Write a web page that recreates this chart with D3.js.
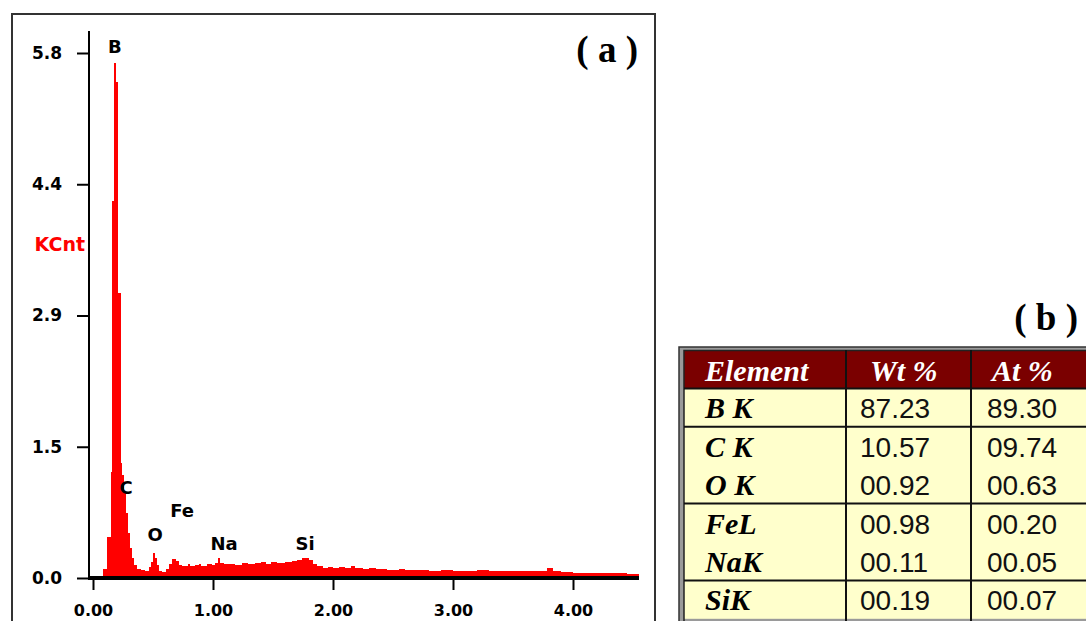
<!DOCTYPE html>
<html>
<head>
<meta charset="utf-8">
<script src="https://cdn.jsdelivr.net/npm/d3@7/dist/d3.min.js"></script>
<style>
html,body{margin:0;padding:0;background:#fff;}
svg{display:block;}
</style>
</head>
<body>
<svg id="chart" width="1086" height="621"></svg>
<script>
// ---------- DATA ----------
// EDS spectrum: left edge of each channel step (keV) and its count (KCnt)
const spectrumKeV = [
  0.080,0.118,0.146,0.160,0.178,0.190,0.210,0.231,0.242,0.258,
  0.275,0.292,0.308,0.325,0.342,0.367,0.400,0.433,0.467,0.483,
  0.500,0.517,0.533,0.550,0.575,0.608,0.633,0.658,0.692,0.717,
  0.742,0.790,0.810,0.850,0.880,0.900,0.950,0.990,1.020,1.045,
  1.060,1.090,1.130,1.180,1.240,1.290,1.350,1.400,1.440,1.480,
  1.530,1.600,1.660,1.700,1.740,1.800,1.830,1.870,1.920,1.960,
  2.000,2.050,2.100,2.150,2.180,2.250,2.300,2.360,2.450,2.550,
  2.600,2.700,2.800,2.900,3.000,3.100,3.200,3.300,3.400,3.500,
  3.600,3.700,3.780,3.830,3.900,4.000,4.100,4.200,4.300,4.400,
  4.450
];
const spectrumKCnt = [
  0.10,0.45,1.17,4.16,5.69,5.48,3.15,1.27,1.14,0.95,
  0.72,0.50,0.33,0.22,0.14,0.10,0.09,0.08,0.12,0.18,
  0.28,0.22,0.14,0.08,0.07,0.10,0.15,0.21,0.19,0.14,
  0.13,0.15,0.13,0.14,0.16,0.13,0.15,0.14,0.17,0.22,
  0.17,0.15,0.16,0.14,0.17,0.16,0.17,0.18,0.16,0.18,
  0.17,0.18,0.19,0.20,0.22,0.20,0.16,0.13,0.11,0.12,
  0.11,0.12,0.11,0.13,0.11,0.10,0.11,0.10,0.09,0.095,
  0.085,0.09,0.08,0.085,0.08,0.08,0.085,0.08,0.075,0.08,
  0.075,0.08,0.105,0.075,0.07,0.06,0.055,0.05,0.05,0.06,
  0.045
];
const spectrumEndKeV = 4.55;

// axes
const xTicks = [0, 1, 2, 3, 4];
const yTicks = [0, 1.45, 2.9, 4.35, 5.8];
const yTickLabels = ["0.0", "1.5", "2.9", "4.4", "5.8"];
const yMax = 5.8;

// peak labels: element, energy (keV), label level (KCnt)
const peakNames = ["B", "C", "O", "Fe", "Na", "Si"];
const peakKeV   = [0.183, 0.275, 0.517, 0.742, 1.092, 1.767];
const peakLevel = [5.87, 1.00, 0.475, 0.75, 0.376, 0.376];

// table (b)
const tableHeader = ["Element", "Wt %", "At %"];
const tableElements = ["B K", "C K", "O K", "FeL", "NaK", "SiK"];
const tableWt = ["87.23", "10.57", "00.92", "00.98", "00.11", "00.19"];
const tableAt = ["89.30", "09.74", "00.63", "00.20", "00.05", "00.07"];
const tableRuleAfter = [true, false, true, false, true, false];

// ---------- DRAW ----------
const svg = d3.select("#chart");

// panel (a) frame
const frame = svg.append("g").attr("stroke", "#333").attr("stroke-width", 2).attr("fill", "none");
frame.append("path").attr("d", "M12,622 L12,14 L655,14 L655,622");

const x = d3.scaleLinear().domain([0, spectrumEndKeV]).range([93, 639]);
const y = d3.scaleLinear().domain([0, yMax]).range([578, 53]);

const pts = spectrumKeV.map((e, i) => [e, spectrumKCnt[i]]);
pts.push([spectrumEndKeV, spectrumKCnt[spectrumKCnt.length - 1]]);

const area = d3.area()
  .x(d => x(d[0]))
  .y0(y(0))
  .y1(d => y(d[1]))
  .curve(d3.curveStepAfter);

svg.append("path")
  .datum(pts)
  .attr("d", area)
  .attr("fill", "#ff0000")
  .attr("shape-rendering", "crispEdges");

// y axis
const yAxis = d3.axisLeft(y)
  .tickValues(yTicks)
  .tickFormat((d, i) => yTickLabels[i])
  .tickSize(12)
  .tickPadding(15);
const gy = svg.append("g").attr("transform", "translate(89,0)").call(yAxis);
gy.select(".domain").remove();
gy.selectAll(".tick line").attr("stroke", "#000").attr("stroke-width", 2);
gy.selectAll(".tick text")
  .attr("font-family", "DejaVu Sans")
  .attr("font-weight", "bold")
  .attr("font-size", 17)
  .attr("fill", "#000");
svg.append("line").attr("x1", 89).attr("x2", 89).attr("y1", 31).attr("y2", 579)
  .attr("stroke", "#000").attr("stroke-width", 2);

// x axis
const xAxis = d3.axisBottom(x)
  .tickValues(xTicks)
  .tickFormat(d3.format(".2f"))
  .tickSize(10)
  .tickPadding(15);
const gx = svg.append("g").attr("transform", "translate(0,580)").call(xAxis);
gx.select(".domain").remove();
gx.selectAll(".tick line").attr("stroke", "#000").attr("stroke-width", 2);
gx.selectAll(".tick text")
  .attr("font-family", "DejaVu Sans")
  .attr("font-weight", "bold")
  .attr("font-size", 16)
  .attr("fill", "#000");
svg.append("line").attr("x1", 88).attr("x2", 639).attr("y1", y(0)).attr("y2", y(0))
  .attr("stroke", "#000").attr("stroke-width", 4);

// y title
svg.append("text").attr("x", 85).attr("y", 244).attr("dy", "0.35em")
  .attr("text-anchor", "end")
  .attr("font-family", "DejaVu Sans").attr("font-weight", "bold").attr("font-size", 19)
  .attr("fill", "#ff0000").text("KCnt");

// peak labels
svg.append("g").selectAll("text").data(peakNames).join("text")
  .attr("x", (d, i) => x(peakKeV[i]))
  .attr("y", (d, i) => y(peakLevel[i]))
  .attr("dy", "0.36em")
  .attr("text-anchor", "middle")
  .attr("font-family", "DejaVu Sans").attr("font-weight", "bold").attr("font-size", 18)
  .attr("fill", "#000")
  .text(d => d);

// panel label (a)
svg.append("text").attr("x", 638).attr("y", 62).attr("text-anchor", "end")
  .attr("font-family", "Liberation Serif").attr("font-weight", "bold").attr("font-size", 37)
  .attr("fill", "#000").text("( a )");

// ---------- TABLE (b) ----------
svg.append("text").attr("x", 1078).attr("y", 330).attr("text-anchor", "end")
  .attr("font-family", "Liberation Serif").attr("font-weight", "bold").attr("font-size", 37)
  .attr("fill", "#000").text("( b )");

const tLeft = 681, tRight = 1100, tTop = 350, rowH = 38.4;
const colX = [tLeft, 846, 971, tRight];
const nRows = tableElements.length;
const tBottom = tTop + rowH * (nRows + 1);

const tg = svg.append("g");
// outer double border
tg.append("rect").attr("x", tLeft - 2).attr("y", tTop - 3).attr("width", tRight - tLeft + 10)
  .attr("height", tBottom - tTop + 10).attr("fill", "#9a9a9a");
tg.append("rect").attr("x", tLeft - 2).attr("y", tTop - 3).attr("width", tRight - tLeft + 10)
  .attr("height", tBottom - tTop + 10).attr("fill", "none").attr("stroke", "#333").attr("stroke-width", 1.5);
// body background
tg.append("rect").attr("x", tLeft + 3).attr("y", tTop + rowH).attr("width", tRight - tLeft)
  .attr("height", rowH * nRows).attr("fill", "#ffffcc");
// header background
tg.append("rect").attr("x", tLeft + 3).attr("y", tTop + 1).attr("width", tRight - tLeft)
  .attr("height", rowH - 1).attr("fill", "#7a0000");
// inner border line
tg.append("path").attr("d", `M${tLeft + 3},${tBottom + 6} L${tLeft + 3},${tTop + 0.5} L${tRight + 10},${tTop + 0.5}`)
  .attr("fill", "none").attr("stroke", "#222").attr("stroke-width", 1.5);

// vertical separators
tg.selectAll("line.v").data([colX[1], colX[2]]).join("line").attr("class", "v")
  .attr("x1", d => d).attr("x2", d => d).attr("y1", tTop).attr("y2", tBottom + 6)
  .attr("stroke", "#111").attr("stroke-width", 2);
// horizontal rules
const ruleYs = [tTop + rowH];
tableRuleAfter.forEach((r, i) => { if (r) ruleYs.push(tTop + rowH * (i + 2)); });
tg.selectAll("line.h").data(ruleYs).join("line").attr("class", "h")
  .attr("x1", tLeft + 3).attr("x2", tRight + 10).attr("y1", d => d).attr("y2", d => d)
  .attr("stroke", "#111").attr("stroke-width", 2);

// header text
const headX = [705, 870, 992];
tg.selectAll("text.hd").data(tableHeader).join("text").attr("class", "hd")
  .attr("x", (d, i) => headX[i]).attr("y", tTop + 31)
  .attr("font-family", "Liberation Serif").attr("font-style", "italic").attr("font-weight", "bold")
  .attr("font-size", 30).attr("fill", "#fff").text(d => d);

// body text
tg.selectAll("text.el").data(tableElements).join("text").attr("class", "el")
  .attr("x", 705).attr("y", (d, i) => tTop + rowH * (i + 1) + 30)
  .attr("font-family", "Liberation Serif").attr("font-style", "italic").attr("font-weight", "bold")
  .attr("font-size", 30).attr("fill", "#000").text(d => d);
tg.selectAll("text.wt").data(tableWt).join("text").attr("class", "wt")
  .attr("x", 860).attr("y", (d, i) => tTop + rowH * (i + 1) + 30)
  .attr("font-family", "Liberation Sans").attr("font-size", 28).attr("fill", "#111").text(d => d);
tg.selectAll("text.at").data(tableAt).join("text").attr("class", "at")
  .attr("x", 987).attr("y", (d, i) => tTop + rowH * (i + 1) + 30)
  .attr("font-family", "Liberation Sans").attr("font-size", 28).attr("fill", "#111").text(d => d);
</script>
</body>
</html>
